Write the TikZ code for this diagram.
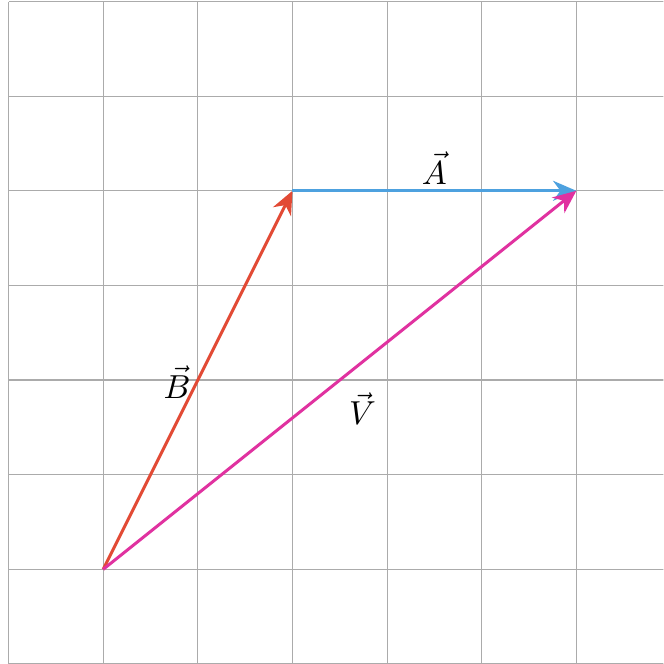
\documentclass[tikz,border=0pt]{standalone}
\usetikzlibrary{arrows.meta}
\definecolor{vred}{HTML}{E24A35}
\definecolor{vblue}{HTML}{4DA1DF}
\definecolor{vmag}{HTML}{E032A0}
\definecolor{gridc}{HTML}{ABABAB}
\begin{document}
\begin{tikzpicture}[x=1cm,y=1cm,
  vec/.style={line width=0.9pt,-{Stealth[length=7pt,width=6pt,inset=2.2pt]}},
  lab/.style={inner sep=0pt,font=\normalsize}]
\useasboundingbox (-0.09,-1.0) rectangle (6.92,6.016);
\clip (-0.09,-1.0) rectangle (6.92,6.016);
\draw[gridc,line width=0.35pt] (0,-1) grid[step=1] (6.95,6);
\coordinate (O) at (1,0);
\coordinate (P) at (3,4);
\coordinate (Q) at (6,4);
\draw[vec,vred] (O) -- (P);
\draw[vec,vblue] (P) -- (Q);
\draw[vec,vmag] (O) -- (Q);
\node[lab] (la) at (4.50,4.24) {$\vec{A}$};
\node[lab] (lb) at (1.78,1.98) {$\vec{B}$};
\node[lab] (lv) at (3.74,1.70) {$\vec{V}$};
\end{tikzpicture}
\end{document}
